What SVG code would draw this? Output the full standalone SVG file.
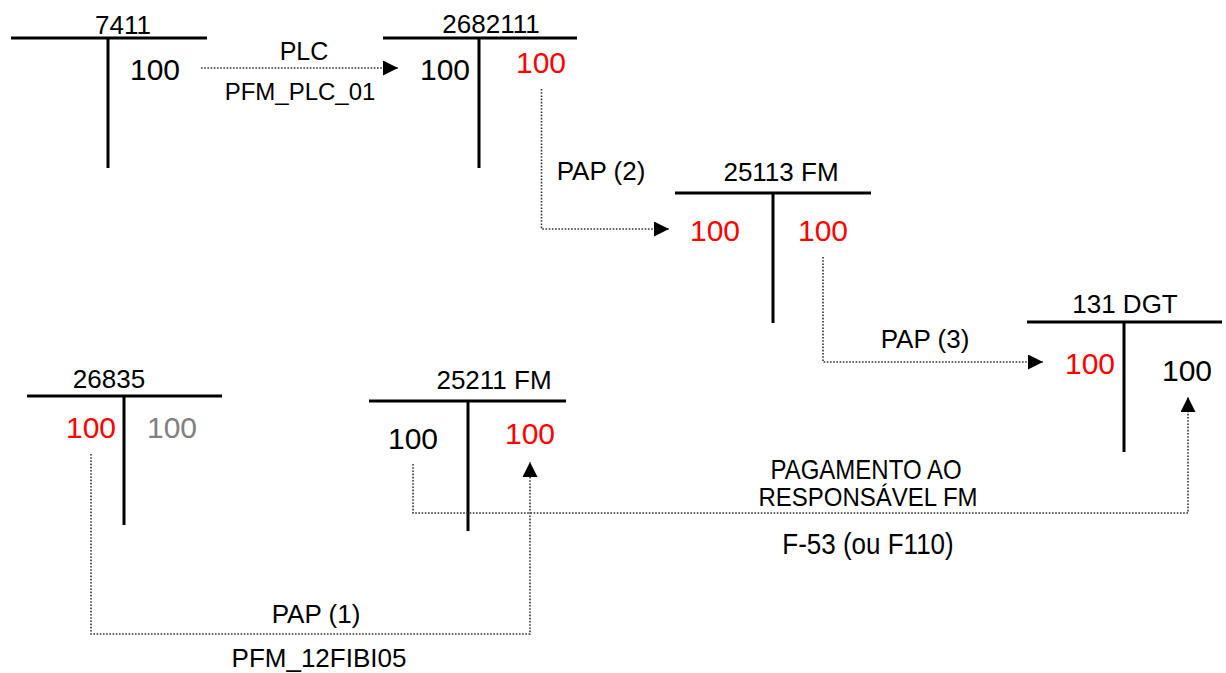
<svg xmlns="http://www.w3.org/2000/svg" width="1226" height="673" viewBox="0 0 1226 673">
<style>
text{font-family:"Liberation Sans",Arial,sans-serif;fill:#000;text-anchor:middle}
.t{font-size:26px}
.a{font-size:30px}
.l{font-size:24px}
.p{font-size:26px}
.r{fill:#ff0000}
.g{fill:#808080}
.bar{stroke:#000;stroke-width:3;fill:none}
.c{stroke:#333;stroke-width:1.6;stroke-dasharray:1.6 1.6;fill:none}
</style>
<defs>
<marker id="ah" markerUnits="userSpaceOnUse" markerWidth="16" markerHeight="16" refX="15" refY="7.5" orient="auto">
<path d="M0,0 L15,7.5 L0,15 Z" fill="#000"/>
</marker>
</defs>
<rect width="1226" height="673" fill="#fff"/>
<g id="n7411">
<line class="bar" x1="11" y1="38" x2="207" y2="38"/>
<line class="bar" x1="108" y1="38" x2="108" y2="168"/>
<text class="t" x="123" y="34">7411</text>
<text class="a" x="155" y="80">100</text>
</g>
<g id="n2682111">
<line class="bar" x1="383" y1="38" x2="577" y2="38"/>
<line class="bar" x1="479" y1="38" x2="479" y2="168"/>
<text class="t" x="491" y="33">2682111</text>
<text class="a" x="445" y="80">100</text>
<text class="a r" x="541" y="73">100</text>
</g>
<g id="n25113">
<line class="bar" x1="675" y1="193" x2="871" y2="193"/>
<line class="bar" x1="773" y1="193" x2="773" y2="323"/>
<text class="t" x="781" y="181">25113 FM</text>
<text class="a r" x="715" y="241">100</text>
<text class="a r" x="823" y="241">100</text>
</g>
<g id="n131DGT">
<line class="bar" x1="1027" y1="322" x2="1222" y2="322"/>
<line class="bar" x1="1124" y1="322" x2="1124" y2="452"/>
<text class="t" x="1125" y="313">131 DGT</text>
<text class="a r" x="1090" y="374">100</text>
<text class="a" x="1187" y="381">100</text>
</g>
<g id="n26835">
<line class="bar" x1="27" y1="396" x2="222" y2="396"/>
<line class="bar" x1="124" y1="396" x2="124" y2="525"/>
<text class="t" x="109" y="388">26835</text>
<text class="a r" x="91" y="438">100</text>
<text class="a g" x="172" y="438">100</text>
</g>
<g id="n25211">
<line class="bar" x1="369" y1="401" x2="566" y2="401"/>
<line class="bar" x1="468" y1="401" x2="468" y2="531"/>
<text class="t" x="494" y="389">25211 FM</text>
<text class="a" x="413" y="449">100</text>
<text class="a r" x="530" y="444">100</text>
</g>
<g id="connectors">
<path class="c" d="M201,68 H398" marker-end="url(#ah)"/>
<path class="c" d="M541.5,89 V229 H669" marker-end="url(#ah)"/>
<path class="c" d="M823,257 V362 H1043" marker-end="url(#ah)"/>
<path class="c" d="M91,454 V634 H530 V462" marker-end="url(#ah)"/>
<path class="c" d="M413,464 V513 H1188 V397" marker-end="url(#ah)"/>
<text class="l" x="304" y="60" style="font-size:25px">PLC</text>
<text class="l" x="300" y="100">PFM_PLC_01</text>
<text class="p" x="601" y="180">PAP (2)</text>
<text class="p" x="925" y="348">PAP (3)</text>
<text class="p" x="316" y="623">PAP (1)</text>
<text class="p" x="319" y="667">PFM_12FIBI05</text>
<text class="l" transform="translate(866,479) scale(1,1.15)">PAGAMENTO AO</text>
<text class="l" transform="translate(868,506) scale(1,1.1)">RESPONSÁVEL FM</text>
<text class="l" transform="translate(868,554) scale(1,1.15)" style="font-size:26px">F-53 (ou F110)</text>
</g>
</svg>
